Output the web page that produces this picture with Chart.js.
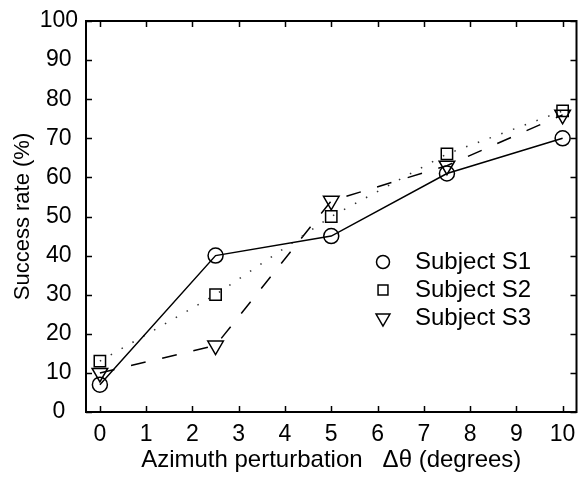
<!DOCTYPE html>
<html>
<head>
<meta charset="utf-8">
<script src="https://cdn.jsdelivr.net/npm/chart.js@4.4.0/dist/chart.umd.min.js"></script>
<style>
  html, body { margin: 0; padding: 0; background: #fff; }
  #wrap { width: 587px; height: 477px; }
</style>
</head>
<body>
<div id="wrap"><canvas id="lineChart"></canvas></div>
<script>
var perturbation = [0, 2.5, 5, 7.5, 10];
var subjectS1 = [7, 40, 45, 61, 70];
var subjectS2 = [13, 30, 50, 66, 77];
var subjectS3 = [10, 17, 54, 63, 76];
var seriesNames = ["Subject S1", "Subject S2", "Subject S3"];
var xTicks = [0, 1, 2, 3, 4, 5, 6, 7, 8, 9, 10];
var yTicks = [0, 10, 20, 30, 40, 50, 60, 70, 80, 90, 100];

var FONT = "'Liberation Sans', Arial, sans-serif";

function pts(ys) {
    return perturbation.map(function (x, i) { return { x: x, y: ys[i] }; });
}

// frame, inward ticks on all four sides, and the legend inside the plot
var framePlugin = {
    id: 'frame',
    afterDraw: function (chart) {
        var ctx = chart.ctx, a = chart.chartArea;
        var xs = chart.scales.x, ys = chart.scales.y;
        ctx.save();
        ctx.strokeStyle = '#000';
        ctx.lineWidth = 1.5;
        xTicks.forEach(function (v) {
            var px = Math.round(xs.getPixelForValue(v)) + 0.5;
            ctx.beginPath();
            ctx.moveTo(px, a.bottom); ctx.lineTo(px, a.bottom - 6);
            ctx.moveTo(px, a.top); ctx.lineTo(px, a.top + 6);
            ctx.stroke();
        });
        yTicks.forEach(function (v) {
            var py = Math.round(ys.getPixelForValue(v)) + 0.5;
            ctx.beginPath();
            ctx.moveTo(a.left, py); ctx.lineTo(a.left + 6, py);
            ctx.moveTo(a.right, py); ctx.lineTo(a.right - 6, py);
            ctx.stroke();
        });
        ctx.lineWidth = 2;
        ctx.strokeRect(a.left, a.top, a.right - a.left, a.bottom - a.top);

        // legend
        chart.data.datasets.forEach(function (ds, i) {
            var ly = 262 + i * 28;
            ctx.fillStyle = 'rgba(0,0,0,0)';
            ctx.strokeStyle = '#000';
            ctx.lineWidth = 1.5;
            Chart.helpers.drawPoint(ctx, {
                pointStyle: ds.pointStyle,
                radius: ds.pointRadius - 1,
                rotation: ds.pointRotation || 0,
                borderWidth: 1.5
            }, 383, ly);
            ctx.font = '24px ' + FONT;
            ctx.fillStyle = '#000';
            ctx.textBaseline = 'middle';
            ctx.textAlign = 'left';
            ctx.fillText(ds.label, 415, ly);
        });
        ctx.restore();
    }
};

var ctxL = document.getElementById("lineChart").getContext('2d');
var myLineChart = new Chart(ctxL, {
    type: 'line',
    data: {
        datasets: [
            {
                label: seriesNames[0],
                data: pts(subjectS1),
                borderColor: '#000',
                borderWidth: 1.5,
                pointStyle: 'circle',
                pointRadius: 7.5,
                pointBorderWidth: 1.5,
                pointBorderColor: '#000',
                pointBackgroundColor: 'rgba(0,0,0,0)'
            },
            {
                label: seriesNames[1],
                data: pts(subjectS2),
                borderColor: '#333',
                borderWidth: 1.5,
                borderDash: [1.5, 11],
                pointStyle: 'rect',
                pointRadius: 8,
                pointBorderWidth: 1.5,
                pointBorderColor: '#000',
                pointBackgroundColor: 'rgba(0,0,0,0)'
            },
            {
                label: seriesNames[2],
                data: pts(subjectS3),
                borderColor: '#000',
                borderWidth: 1.5,
                borderDash: [15, 17],
                pointStyle: 'triangle',
                pointRotation: 180,
                pointRadius: 9,
                pointBorderWidth: 1.5,
                pointBorderColor: '#000',
                pointBackgroundColor: 'rgba(0,0,0,0)'
            }
        ]
    },
    options: {
        responsive: true,
        maintainAspectRatio: false,
        animation: false,
        layout: { padding: { left: 10, right: 0, top: 21, bottom: 0 } },
        plugins: {
            legend: { display: false },
            tooltip: { enabled: false }
        },
        scales: {
            x: {
                type: 'linear',
                min: -0.3,
                max: 10.3,
                afterBuildTicks: function (s) {
                    s.ticks = xTicks.map(function (v) { return { value: v }; });
                },
                afterFit: function (s) {
                    s.height = 65;
                    s.paddingLeft = 0;
                    s.paddingRight = 0;
                },
                grid: { display: false },
                border: { display: false },
                ticks: {
                    autoSkip: false,
                    maxRotation: 0,
                    padding: 1,
                    color: '#000',
                    font: { family: FONT, size: 23 }
                },
                title: {
                    display: true,
                    text: 'Azimuth perturbation   Δθ (degrees)',
                    color: '#000',
                    padding: { top: 0, bottom: 2 },
                    font: { family: FONT, size: 24 }
                }
            },
            y: {
                min: 0,
                max: 100,
                afterBuildTicks: function (s) {
                    s.ticks = yTicks.map(function (v) { return { value: v }; });
                },
                afterFit: function (s) {
                    s.width = 76;
                    s.paddingTop = 0;
                    s.paddingBottom = 0;
                },
                grid: { display: false },
                border: { display: false },
                ticks: {
                    crossAlign: 'center',
                    padding: 0,
                    color: '#000',
                    font: { family: FONT, size: 23 }
                },
                title: {
                    display: true,
                    text: 'Success rate (%)',
                    color: '#000',
                    padding: 0,
                    font: { family: FONT, size: 22 }
                }
            }
        }
    },
    plugins: [framePlugin]
});
</script>
</body>
</html>
